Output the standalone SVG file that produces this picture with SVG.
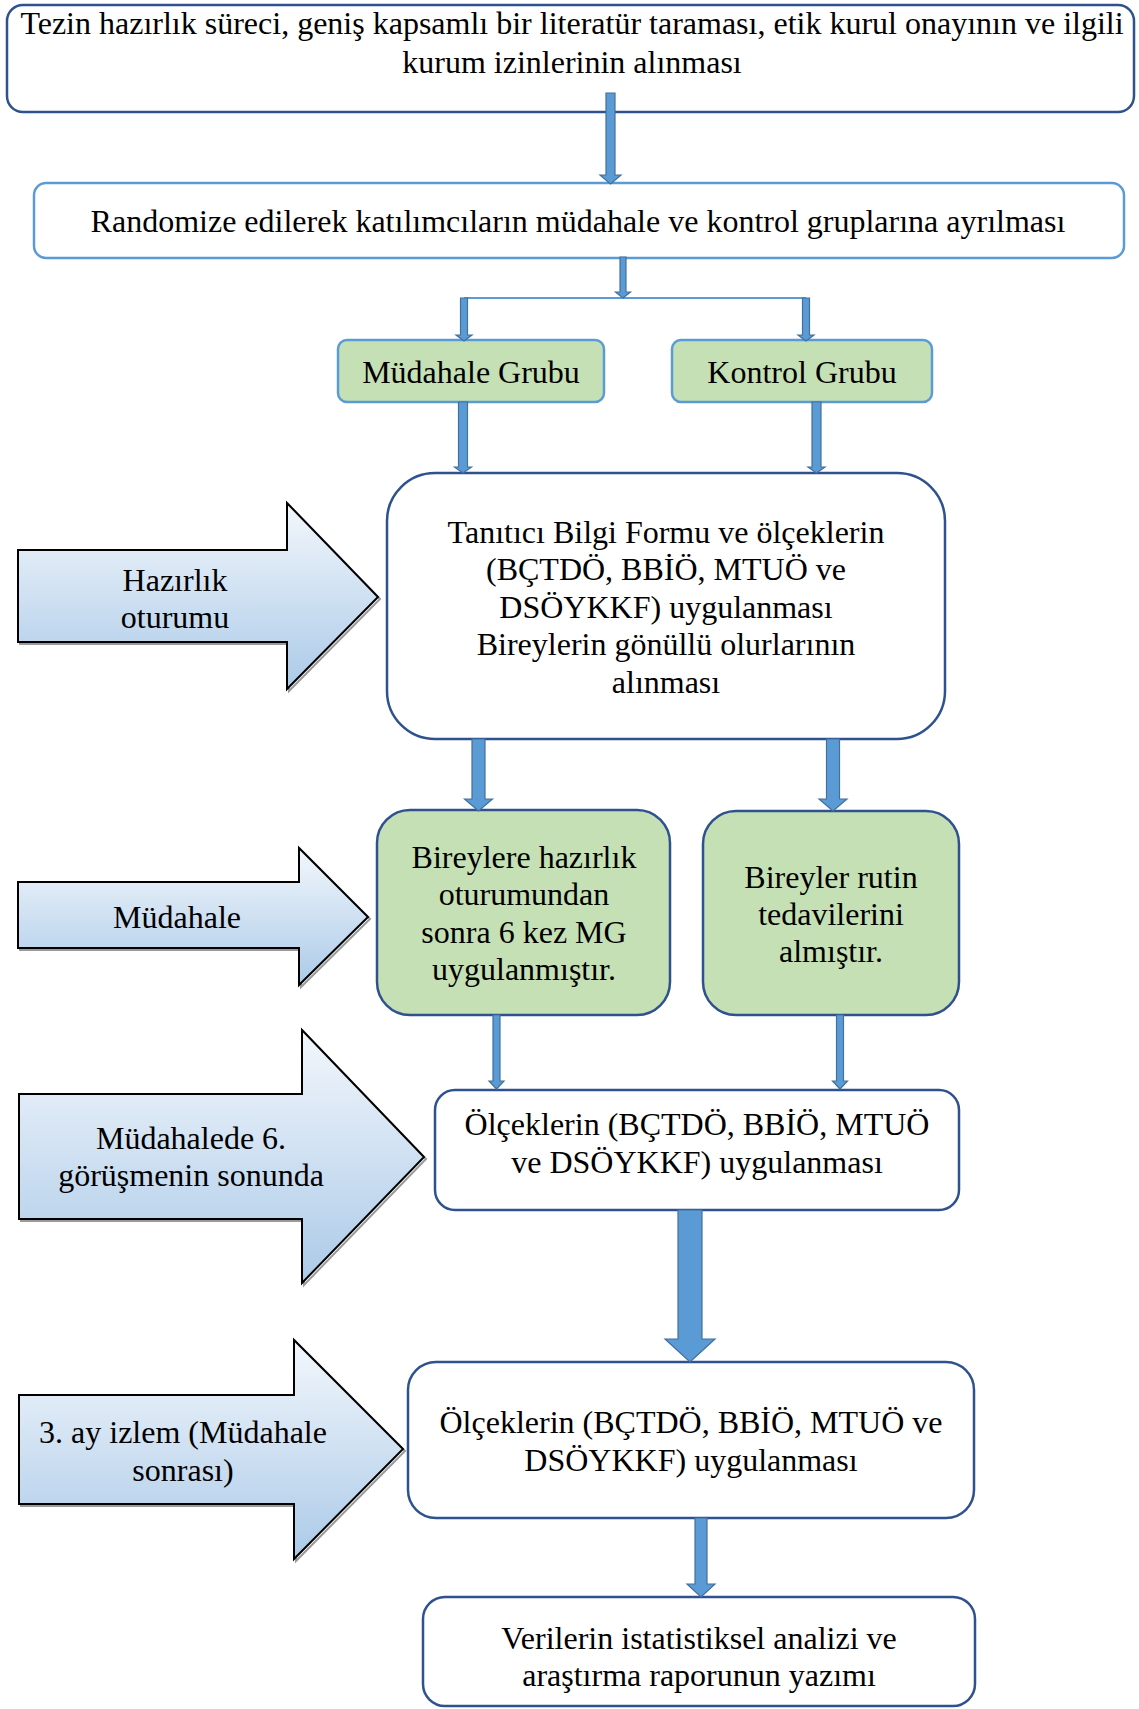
<svg xmlns="http://www.w3.org/2000/svg" width="1139" height="1709" viewBox="0 0 1139 1709">
<defs>
<linearGradient id="blk" x1="0" y1="0" x2="0" y2="1">
<stop offset="0" stop-color="#F3F7FC"/>
<stop offset="1" stop-color="#ABCAE8"/>
</linearGradient>
<style>
text{font-family:"Liberation Serif","Times New Roman",serif;font-size:32px;fill:#000;text-anchor:middle}
.bd{fill:#fff;stroke:#2F528F;stroke-width:2.5}
.bl{fill:#fff;stroke:#5B9BD5;stroke-width:2.5}
.gl{fill:#C5E0B4;stroke:#5B9BD5;stroke-width:2.5}
.gd{fill:#C5E0B4;stroke:#2F528F;stroke-width:2.5}
.ba{fill:url(#blk);stroke:#000;stroke-width:2}
.sh{fill:none;stroke:#9A9A9A;stroke-width:2}
.ar{fill:#5B9BD5;stroke:#41719C;stroke-width:1.2}
.ln{fill:none;stroke:#5B9BD5;stroke-width:2}
</style>
</defs>
<rect width="1139" height="1709" fill="#fff"/>

<g id="n1"><rect class="bd" x="7" y="5" width="1127" height="107" rx="16"/>
<text x="572" y="34">Tezin hazırlık süreci, geniş kapsamlı bir literatür taraması, etik kurul onayının ve ilgili</text>
<text x="572" y="73">kurum izinlerinin alınması</text></g>

<g id="n2"><rect class="bl" x="34" y="183" width="1090" height="75" rx="12"/>
<text x="578" y="232">Randomize edilerek katılımcıların müdahale ve kontrol gruplarına ayrılması</text></g>

<g id="n3"><rect class="gl" x="338" y="340" width="266" height="62" rx="9"/>
<text x="471" y="383">Müdahale Grubu</text></g>

<g id="n4"><rect class="gl" x="672" y="340" width="260" height="62" rx="9"/>
<text x="802" y="383">Kontrol Grubu</text></g>

<g id="n5"><rect class="bd" x="387" y="473" width="558" height="266" rx="48"/>
<text x="666" y="543">Tanıtıcı Bilgi Formu ve ölçeklerin</text>
<text x="666" y="580">(BÇTDÖ, BBİÖ, MTUÖ ve</text>
<text x="666" y="618">DSÖYKKF) uygulanması</text>
<text x="666" y="655">Bireylerin gönüllü olurlarının</text>
<text x="666" y="693">alınması</text></g>

<g id="n6"><rect class="gd" x="377" y="810" width="293" height="205" rx="33"/>
<text x="524" y="868">Bireylere hazırlık</text>
<text x="524" y="905">oturumundan</text>
<text x="524" y="943">sonra 6 kez MG</text>
<text x="524" y="980">uygulanmıştır.</text></g>

<g id="n7"><rect class="gd" x="703" y="811" width="256" height="204" rx="33"/>
<text x="831" y="888">Bireyler rutin</text>
<text x="831" y="925">tedavilerini</text>
<text x="831" y="962">almıştır.</text></g>

<g id="n8"><rect class="bd" x="435" y="1090" width="524" height="120" rx="20"/>
<text x="697" y="1135">Ölçeklerin (BÇTDÖ, BBİÖ, MTUÖ</text>
<text x="697" y="1173">ve DSÖYKKF) uygulanması</text></g>

<g id="n9"><rect class="bd" x="408" y="1362" width="566" height="156" rx="28"/>
<text x="691" y="1433">Ölçeklerin (BÇTDÖ, BBİÖ, MTUÖ ve</text>
<text x="691" y="1471">DSÖYKKF) uygulanması</text></g>

<g id="n10"><rect class="bd" x="423" y="1597" width="552" height="109" rx="22"/>
<text x="699" y="1649">Verilerin istatistiksel analizi ve</text>
<text x="699" y="1686">araştırma raporunun yazımı</text></g>

<g id="s1"><path class="sh" d="M20,552 H289 V505 L380,599 L289,691 V644 H20 Z"/>
<path class="ba" d="M18,550 H287 V503 L378,597 L287,689 V642 H18 Z"/>
<text x="175" y="591">Hazırlık</text><text x="175" y="628">oturumu</text></g>

<g id="s2"><path class="sh" d="M20,884 H301 V850 L370,919 L301,987 V950 H20 Z"/>
<path class="ba" d="M18,882 H299 V848 L368,917 L299,985 V948 H18 Z"/>
<text x="177" y="928">Müdahale</text></g>

<g id="s3"><path class="sh" d="M21,1096 H304 V1032 L426,1159 L304,1285 V1221 H21 Z"/>
<path class="ba" d="M19,1094 H302 V1030 L424,1157 L302,1283 V1219 H19 Z"/>
<text x="191" y="1149">Müdahalede 6.</text><text x="191" y="1186">görüşmenin sonunda</text></g>

<g id="s4"><path class="sh" d="M21,1397 H296 V1342 L405,1451 L296,1561 V1506 H21 Z"/>
<path class="ba" d="M19,1395 H294 V1340 L403,1449 L294,1559 V1504 H19 Z"/>
<text x="183" y="1443">3. ay izlem (Müdahale</text><text x="183" y="1481">sonrası)</text></g>

<g id="connectors">
<line class="ln" x1="464" y1="298" x2="806" y2="298"/>
<polygon class="ar" points="606,93 615,93 615,175 621,175 610.5,184 600,175 606,175"/>
<polygon class="ar" points="620,257 626,257 626,292 630.5,292 623,298 615.5,292 620,292"/>
<polygon class="ar" points="460.5,298 467.5,298 467.5,335 472,335 464,341 456,335 460.5,335"/>
<polygon class="ar" points="802.5,298 809.5,298 809.5,335 814,335 806,341 798,335 802.5,335"/>
<polygon class="ar" points="458.5,402 467.5,402 467.5,467 471.5,467 463,473 454.5,467 458.5,467"/>
<polygon class="ar" points="812,402 821,402 821,467 825,467 816.5,473 808,467 812,467"/>
<polygon class="ar" points="472,739 485,739 485,799 492.5,799 478.5,811 464.5,799 472,799"/>
<polygon class="ar" points="826.5,739 839.5,739 839.5,799 847,799 833,811 819,799 826.5,799"/>
<polygon class="ar" points="493,1015 500,1015 500,1081 504,1081 496.5,1089 489,1081 493,1081"/>
<polygon class="ar" points="836.5,1015 843.5,1015 843.5,1081 847.5,1081 840,1089 832.5,1081 836.5,1081"/>
<polygon class="ar" points="678,1210 702,1210 702,1339 715,1339 690,1362 665,1339 678,1339"/>
<polygon class="ar" points="695,1518 707,1518 707,1584 715,1584 701,1597 687,1584 695,1584"/>
</g>
</svg>
